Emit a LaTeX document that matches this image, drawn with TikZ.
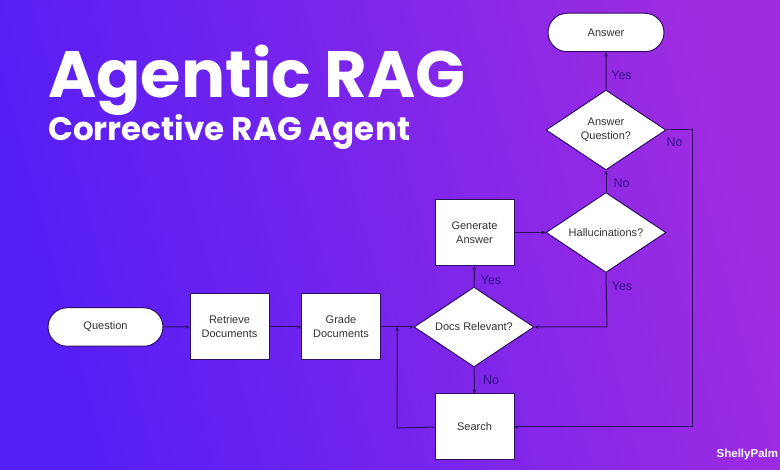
\documentclass[tikz,border=0pt]{standalone}
\usepackage{fontspec}
\setmainfont{Liberation Sans}
\newfontfamily\titlefont{Poppins}
\usetikzlibrary{shapes.geometric,shapes.misc,arrows.meta,calc}
\definecolor{linec}{HTML}{2E0F63}
\definecolor{labc}{HTML}{30108A}
\definecolor{txtc}{HTML}{333333}
\definecolor{bgl}{HTML}{541EF6}
\definecolor{bgr}{HTML}{A02CE0}
\tikzset{
 x=1pt,y=-1pt,
 nodetext/.style={font=\fontsize{11}{14}\selectfont,text=txtc,align=center},
 boxnode/.style={nodetext,draw=linec,line width=1pt,fill=white,rectangle,minimum width=79pt,minimum height=66pt,inner sep=0pt},
 pill/.style={nodetext,draw=linec,line width=1pt,fill=white,rounded rectangle,minimum width=116pt,minimum height=38.5pt,inner sep=0pt},
 decide/.style={nodetext,draw=linec,line width=1pt,fill=white,diamond,aspect=1.5,minimum width=120pt,minimum height=80pt,inner sep=0pt},
 conn/.style={draw=linec,line width=1pt},
 arr/.style={conn,-{Stealth[length=4pt,width=3.5pt]}},
 lab/.style={font=\fontsize{12.5}{15}\selectfont,text=labc,inner sep=0pt},
}
\begin{document}
\begin{tikzpicture}
\useasboundingbox (0,0) rectangle (780,470);
\fill[left color=bgl,right color=bgr,shading angle=105] (0,0) rectangle (780,470);
\node[anchor=base west,inner sep=0pt,text=white,font=\titlefont\bfseries\fontsize{65.5}{70}\selectfont] (title) at (48,98) {Agentic RAG};
\node[anchor=base west,inner sep=0pt,text=white,font=\titlefont\bfseries\fontsize{32.6}{36}\selectfont] (subtitle) at (48,141) {Corrective RAG Agent};
\node[pill] (answer) at (606,32.5) {Answer};
\node[decide] (aq) at (606,130) {Answer\\Question?};
\node[decide] (hal) at (606,232.5) {Hallucinations?};
\node[boxnode] (gen) at (474.5,232.5) {Generate\\Answer};
\node[decide] (docs) at (474,327) {Docs Relevant?};
\node[boxnode] (search) at (474.5,427) {Search};
\node[pill,minimum width=115pt] (question) at (105.5,327) {Question};
\node[boxnode] (ret) at (229.5,327) {Retrieve\\Documents};
\node[boxnode] (grade) at (341,327) {Grade\\Documents};
\coordinate (rt) at (692.5,130);
\coordinate (rb) at (692.5,427);
\coordinate (lb) at (397,428);
\coordinate (lt) at (397,327);
\coordinate (hb) at (607,327);
\draw[arr] (question) -- (ret);
\draw[arr] (ret) -- (grade);
\draw[arr] (grade) -- (docs);
\draw[arr] (docs) -- (gen);
\draw[arr] (docs) -- (search);
\draw[arr] (gen) -- (hal);
\draw[arr] (hal) -- (aq);
\draw[arr] (aq) -- (answer);
\draw[arr] (hal.south) -- (hb) -- (docs.east);
\draw[arr] (aq.east) -- (rt) -- (rb) -- (search.east);
\draw[arr] (search.west) -- (lb) -- (lt);
\node[lab] (l1) at (674.5,142) {No};
\node[lab] (l2) at (622,286.5) {Yes};
\node[lab] (l3) at (491,280.5) {Yes};
\node[lab] (l4) at (491,380) {No};
\node[lab] (l5) at (621.5,183) {No};
\node[lab] (l6) at (621.5,75.5) {Yes};
\node[anchor=base west,inner sep=0pt,text=white,font=\bfseries\fontsize{11.5}{14}\selectfont] (brand) at (716.5,458) {ShellyPalm};
\end{tikzpicture}
\end{document}
